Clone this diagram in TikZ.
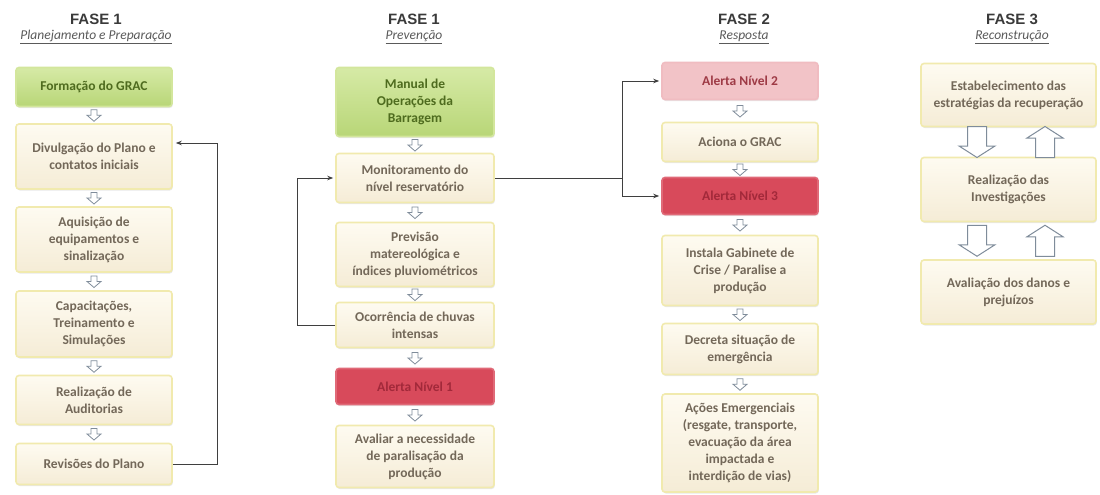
\documentclass[tikz,border=0pt]{standalone}
\usepackage{fontspec}
\setmainfont{Carlito}
\newfontfamily\hdfont{Liberation Sans}
\usetikzlibrary{arrows.meta,calc,shadows}
\definecolor{creamTop}{HTML}{FEFBF1}
\definecolor{creamBot}{HTML}{F5ECD6}
\definecolor{creamLine}{HTML}{F1EAAE}
\definecolor{creamText}{HTML}{736859}
\definecolor{grTop}{HTML}{D6EAA6}
\definecolor{grBot}{HTML}{B8D677}
\definecolor{grLine}{HTML}{D3E69C}
\definecolor{grText}{HTML}{4E6B1E}
\definecolor{pkFill}{HTML}{F2C3C7}
\definecolor{pkLine}{HTML}{F0BCC1}
\definecolor{pkText}{HTML}{9E3A45}
\definecolor{rdFill}{HTML}{D84A5B}
\definecolor{rdLine}{HTML}{E06A78}
\definecolor{rdText}{HTML}{A2293A}
\definecolor{conn}{HTML}{3F3F3F}
\definecolor{arr}{HTML}{7F8C9A}
\definecolor{hdText}{HTML}{3A3A3A}
\definecolor{subText}{HTML}{5A5A5A}
\begin{document}
\begin{tikzpicture}[x=1pt,y=-1pt,
  boxbase/.style={rectangle, rounded corners=3pt, align=center, inner sep=2pt,
    font=\fontsize{13.5}{17}\selectfont\bfseries, line width=1.6pt,
    drop shadow={opacity=0.18, shadow xshift=0.8pt, shadow yshift=-1.5pt}},
  ybox/.style={boxbase, draw=creamLine, top color=creamTop, bottom color=creamBot, text=creamText},
  gbox/.style={boxbase, draw=grLine, top color=grTop, bottom color=grBot, text=grText},
  pbox/.style={boxbase, draw=pkLine, fill=pkFill, text=pkText},
  rbox/.style={boxbase, draw=rdLine, fill=rdFill, text=rdText},
  hd/.style={font=\hdfont\fontsize{15}{17}\selectfont\bfseries, text=hdText},
  sub/.style={font=\fontsize{13.5}{15}\selectfont\itshape, text=subText},
  conline/.style={draw=conn, line width=0.9pt},
  conarrow/.style={conline, -{Stealth[length=6pt,width=4.5pt]}},
  sdown/.pic={\draw[draw=arr, fill=white, line width=0.8pt, line join=miter]
     (-3,-5.5) -- (3,-5.5) -- (3,0) -- (7,0) -- (0,6) -- (-7,0) -- (-3,0) -- cycle;},
  bigdown/.pic={\draw[draw=arr, fill=white, line width=1pt]
     (-9.5,-15.5) -- (9.5,-15.5) -- (9.5,4) -- (18,4) -- (0,15.5) -- (-18,4) -- (-9.5,4) -- cycle;},
  bigup/.pic={\draw[draw=arr, fill=white, line width=1pt]
     (-9.5,15.5) -- (9.5,15.5) -- (9.5,-4) -- (18,-4) -- (0,-15.5) -- (-18,-4) -- (-9.5,-4) -- cycle;}
]
\useasboundingbox[fill=white] (0,0) rectangle (1100,495);

% headers
\node[hd] (h1) at (96,19) {FASE 1};
\node[sub] (s1) at (96,37) {\underline{Planejamento e Preparação}};
\node[hd] (h2) at (414,19) {FASE 1};
\node[sub] (s2) at (414,37) {\underline{Prevenção}};
\node[hd] (h3) at (744,19) {FASE 2};
\node[sub] (s3) at (744,37) {\underline{Resposta}};
\node[hd] (h4) at (1012,19) {FASE 3};
\node[sub] (s4) at (1012,37) {\underline{Reconstrução}};

% column 1
\node[gbox, minimum width=156pt, minimum height=39pt] (c1a) at (94,87) {Formação do GRAC};
\node[ybox, minimum width=156pt, minimum height=65pt] (c1b) at (94,156.5) {Divulgação do Plano e\\contatos iniciais};
\node[ybox, minimum width=156pt, minimum height=65pt] (c1c) at (94,239.5) {Aquisição de\\equipamentos e\\sinalização};
\node[ybox, minimum width=156pt, minimum height=66pt] (c1d) at (94,324) {Capacitações,\\Treinamento e\\Simulações};
\node[ybox, minimum width=156pt, minimum height=49pt] (c1e) at (94,400) {Realização de\\Auditorias};
\node[ybox, minimum width=156pt, minimum height=41pt] (c1f) at (94,464) {Revisões do Plano};
\foreach \a/\b in {c1a/c1b,c1b/c1c,c1c/c1d,c1d/c1e,c1e/c1f}
  \pic at ($(\a.south)!0.5!(\b.north)$) {sdown};
\draw[conarrow] (c1f.east) -- ++(45,0) |- ([xshift=3pt,yshift=13.5pt]c1b.east);

% column 2
\node[gbox, minimum width=158pt, minimum height=69pt] (c2a) at (415,102) {Manual de\\Operações da\\Barragem};
\node[ybox, minimum width=158pt, minimum height=49pt] (c2b) at (415,178) {Monitoramento do\\nível reservatório};
\node[ybox, minimum width=158pt, minimum height=64pt] (c2c) at (415,254.5) {Previsão\\matereológica e\\índices pluviométricos};
\node[ybox, minimum width=158pt, minimum height=45pt] (c2d) at (415,325) {Ocorrência de chuvas\\intensas};
\node[rbox, minimum width=158pt, minimum height=36pt] (c2e) at (415,386.5) {Alerta Nível 1};
\node[ybox, minimum width=158pt, minimum height=62pt] (c2f) at (415,456.5) {Avaliar a necessidade\\de paralisação da\\produção};
\foreach \a/\b in {c2a/c2b,c2b/c2c,c2c/c2d,c2d/c2e,c2e/c2f}
  \pic at ($(\a.south)!0.5!(\b.north)$) {sdown};
\draw[conarrow] (c2d.west) -- ++(-38,0) |- ([xshift=-2pt]c2b.west);

% column 3
\node[pbox, minimum width=156pt, minimum height=37pt] (c3a) at (740,81) {Alerta Nível 2};
\node[ybox, minimum width=156pt, minimum height=39pt] (c3b) at (740,142) {Aciona o GRAC};
\node[rbox, minimum width=156pt, minimum height=37pt] (c3c) at (740,196) {Alerta Nível 3};
\node[ybox, minimum width=156pt, minimum height=70pt] (c3d) at (740,270.5) {Instala Gabinete de\\Crise / Paralise a\\produção};
\node[ybox, minimum width=156pt, minimum height=51pt] (c3e) at (740,349) {Decreta situação de\\emergência};
\node[ybox, minimum width=156pt, minimum height=98pt] (c3f) at (740,443) {Ações Emergenciais\\(resgate, transporte,\\evacuação da área\\impactada e\\interdição de vias)};
\foreach \a/\b in {c3a/c3b,c3b/c3c,c3c/c3d,c3d/c3e,c3e/c3f}
  \pic at ($(\a.south)!0.5!(\b.north)$) {sdown};
\coordinate (j) at ($(c2b.east)+(128,0)$);
\draw[conline] (c2b.east) -- (j);
\draw[conarrow] (j) |- ([xshift=-2pt]c3a.west);
\draw[conarrow] (j) |- ([xshift=-2pt]c3c.west);

% column 4
\node[ybox, minimum width=175pt, minimum height=63pt] (c4a) at (1008.5,95) {Estabelecimento das\\estratégias da recuperação};
\node[ybox, minimum width=175pt, minimum height=64pt] (c4b) at (1008.5,189.5) {Realização das\\Investigações};
\node[ybox, minimum width=175pt, minimum height=64pt] (c4c) at (1008.5,292) {Avaliação dos danos e\\prejuízos};
\pic at ($($(c4a.south)!0.5!(c4b.north)$)+(-31.5,0)$) {bigdown};
\pic at ($($(c4a.south)!0.5!(c4b.north)$)+(36.5,0)$) {bigup};
\pic at ($($(c4b.south)!0.5!(c4c.north)$)+(-31.5,0)$) {bigdown};
\pic at ($($(c4b.south)!0.5!(c4c.north)$)+(36.5,0)$) {bigup};
\end{tikzpicture}
\end{document}
